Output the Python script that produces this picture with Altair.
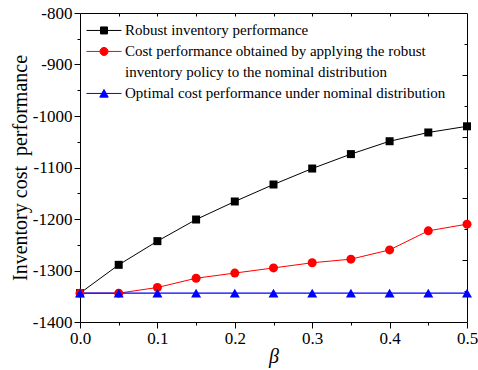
import altair as alt
import pandas as pd

# ---------------- data ----------------
beta = [0.0, 0.05, 0.1, 0.15, 0.2, 0.25, 0.3, 0.35, 0.4, 0.45, 0.5]
robust = [-1344, -1289, -1243, -1201, -1166, -1133, -1102, -1074, -1049, -1032, -1020]
cost_nominal = [-1344, -1344, -1333, -1315, -1305, -1295, -1285, -1278, -1260, -1223, -1210]
optimal = [-1344, -1344, -1344, -1344, -1344, -1344, -1344, -1344, -1344, -1344, -1344]

series_names = [
    "Robust inventory performance",
    "Cost performance obtained by applying the robust inventory policy to the nominal distribution",
    "Optimal cost performance under nominal distribution",
]
label_line1 = "Cost performance obtained by applying the robust"
label_line2 = "inventory policy to the nominal distribution"
series_colors = ["#000000", "#ff0000", "#0000ff"]

x_major = [0.0, 0.1, 0.2, 0.3, 0.4, 0.5]
x_minor = [0.05, 0.15, 0.25, 0.35, 0.45]
x_top = [0.05, 0.1, 0.15, 0.2, 0.25, 0.3, 0.35, 0.4, 0.45]
y_major = [-800, -900, -1000, -1100, -1200, -1300, -1400]
y_minor = [-850, -950, -1050, -1150, -1250, -1350]
y_right_major = [-920, -1040, -1160, -1280]
y_right_minor = [-860, -980, -1100, -1220, -1340]

rows = []
for name, vals in zip(series_names, [robust, cost_nominal, optimal]):
    for b, v in zip(beta, vals):
        rows.append({"beta": b, "value": v, "series": name})
df = pd.DataFrame(rows)

# ---------------- styling ----------------
FONT = "Liberation Serif"
W, H = 387, 309

xs = alt.Scale(domain=[0, 0.5], nice=False, zero=False)
ys = alt.Scale(domain=[-1400, -800], nice=False, zero=False)

common = dict(grid=False, domainColor="black", tickColor="black", labelColor="black",
              titleColor="black", labelFont=FONT, titleFont=FONT, labelFlush=False,
              labelOverlap=False, domainWidth=1, tickWidth=1)

ax_x_major = alt.Axis(orient="bottom", values=x_major, format=".1f", tickSize=6, labelPadding=2,
                      labelFontSize=17, title="β", titleFontSize=20, titleFontStyle="italic",
                      titleFontWeight="normal", titleX=W / 2, titleY=34, titleAlign="center",
                      titleBaseline="middle", **common)
ax_x_minor = alt.Axis(orient="bottom", values=x_minor, tickSize=3, labels=False, domain=False,
                      title=None, **common)
ax_x_top = alt.Axis(orient="bottom", offset=-H, values=x_top, tickSize=3, labels=False,
                    domain=True, title=None, **common)

ax_y_major = alt.Axis(orient="left", values=y_major, labelExpr="'' + datum.value", tickSize=6,
                      labelPadding=2, labelFontSize=17, title="Inventory cost\u00a0 performance",
                      titleFontSize=20, titleFontWeight="normal", titleX=-60, titleY=H / 2,
                      titleAlign="center", titleBaseline="middle", titleAngle=270, **common)
ax_y_minor = alt.Axis(orient="left", values=y_minor, tickSize=3, labels=False, domain=False,
                      title=None, **common)
ax_y_right_major = alt.Axis(orient="left", offset=-W, values=y_right_major, tickSize=5,
                            labels=False, domain=True, title=None, **common)
ax_y_right_minor = alt.Axis(orient="left", offset=-W, values=y_right_minor, tickSize=3,
                            labels=False, domain=False, title=None, **common)

base = alt.Chart(df)


def line_layer(i, xaxis, yaxis, width=1.0):
    return base.transform_filter(alt.datum.series == series_names[i]).mark_line(
        color=series_colors[i], strokeWidth=width
    ).encode(
        x=alt.X("beta:Q", scale=xs, axis=xaxis),
        y=alt.Y("value:Q", scale=ys, axis=yaxis),
    )


l_black = line_layer(0, ax_x_major, ax_y_major)
l_red = line_layer(1, ax_x_minor, ax_y_minor)
l_blue = line_layer(2, ax_x_top, ax_y_right_major, 1.2)


def pts(i, mark):
    return base.transform_filter(alt.datum.series == series_names[i]).mark_point(
        shape=mark[0], size=mark[1], filled=True, opacity=1, color=series_colors[i], strokeWidth=0
    ).encode(
        x=alt.X("beta:Q", scale=xs, axis=None),
        y=alt.Y("value:Q", scale=ys, axis=None),
    )


p_black = pts(0, ("square", 64))
p_red = pts(1, ("circle", 81))
p_blue = pts(2, ("triangle-up", 100))

# legend symbols: line + marker, drawn as custom paths
sym_paths = [
    "M-1,-0.26H1M-0.2,-0.46H0.2V-0.06H-0.2Z",
    "M-1,-0.26H1M0.23,-0.26A0.23,0.23,0,1,1,-0.23,-0.26A0.23,0.23,0,1,1,0.23,-0.26Z",
    "M-1,-0.26H1M0,-0.49L0.24,-0.05L-0.24,-0.05Z",
]
label_expr = (
    f"datum.label == '{series_names[1]}' ? ['{label_line1}', '{label_line2}'] : datum.label"
)
leg = alt.Legend(orient="none", legendX=6, legendY=4, direction="vertical", title=None,
                 labelFont=FONT, labelFontSize=15, labelColor="black", labelLimit=0,
                 symbolSize=1225, symbolStrokeWidth=1, labelOffset=3,
                 labelBaseline="alphabetic", rowPadding=0, padding=0,
                 labelExpr=label_expr, symbolOpacity=1)

legend_layer = base.transform_filter("false").mark_point(
    filled=True, opacity=1, size=1225, strokeWidth=1
).encode(
    x=alt.X("beta:Q", scale=xs, axis=None),
    y=alt.Y("value:Q", scale=ys, axis=ax_y_right_minor),
    fill=alt.Fill("series:N", scale=alt.Scale(domain=series_names, range=series_colors), legend=leg),
    stroke=alt.Stroke("series:N", scale=alt.Scale(domain=series_names, range=series_colors), legend=leg),
    shape=alt.Shape("series:N", scale=alt.Scale(domain=series_names, range=sym_paths), legend=leg),
)

chart = alt.layer(
    l_black, l_red, l_blue, p_black, p_red, p_blue, legend_layer
).resolve_axis(x="independent", y="independent").properties(
    width=W, height=H,
    autosize=alt.AutoSizeParams(type="none"),
    padding={"left": 80, "top": 13, "right": 11, "bottom": 48},
    background="white",
).configure(
    style={"guide-label": {"lineHeight": 20.5}}
).configure_view(stroke=None)

chart.save("out.html", embed_options={"renderer": "svg", "actions": False})
